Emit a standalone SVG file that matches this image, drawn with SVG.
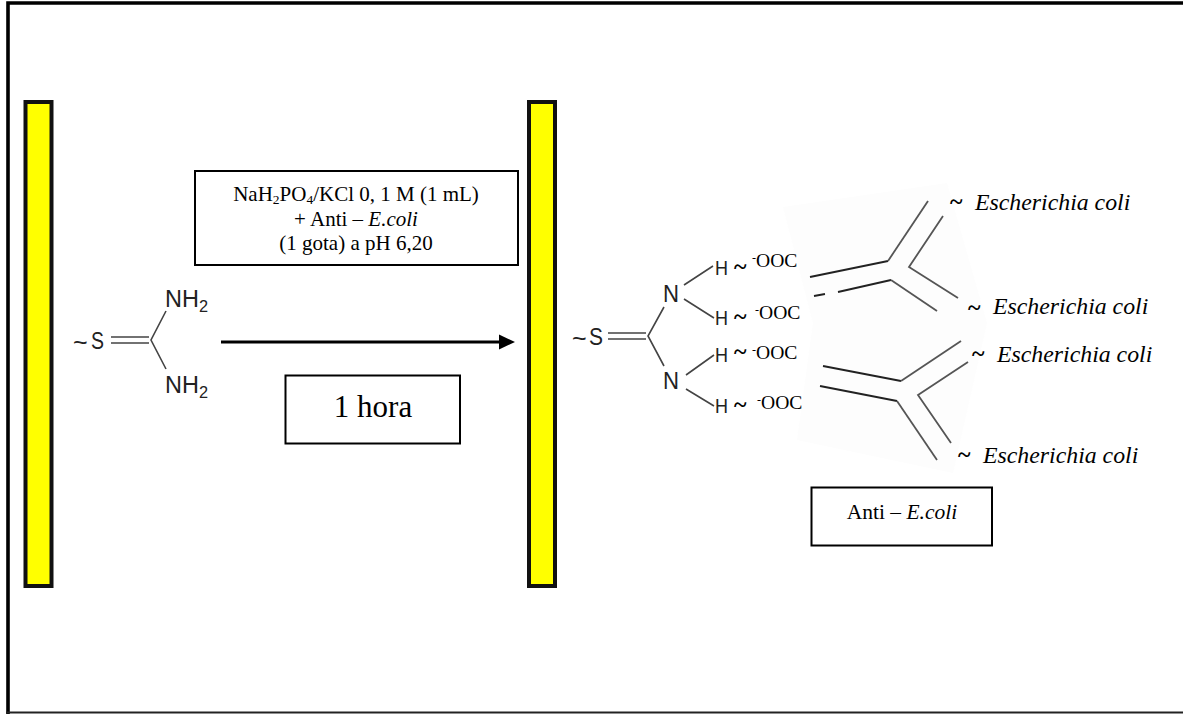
<svg xmlns="http://www.w3.org/2000/svg" width="1183" height="714" viewBox="0 0 1183 714">
<style>
.t{font-family:"Liberation Serif","Times New Roman",serif;fill:#000}
.s{font-family:"Liberation Sans",Arial,sans-serif;fill:#222}
.b{fill:#fff;stroke:#000;stroke-width:2}
.bar{fill:#ff0;stroke:#111;stroke-width:4}
.g{fill:none;stroke:#555;stroke-width:1.8}
.d{fill:none;stroke:#222;stroke-width:1.8}
.a{fill:none;stroke:#444;stroke-width:1.6}
.e{font-size:23.8px;font-style:italic}
.o{font-size:19.6px}
.w{font-size:24px;font-weight:bold}
.bg{fill:#fdfdfd}
</style>
<rect width="1183" height="714" fill="#fff"/>
<path d="M8 714V3H1183" fill="none" stroke="#000" stroke-width="3.600"/>
<line x1="6" y1="712.500" x2="1183" y2="712.500" stroke="#222" stroke-width="1.800"/>
<polygon class="bg" points="783,207 947,183 987,323 813,323"/>
<polygon class="bg" points="813,323 987,323 953,473 797,440"/>
<g id="plate-left"><rect class="bar" x="25.500" y="102" width="26" height="484"/></g>
<g id="plate-right"><rect class="bar" x="529" y="102" width="26" height="484"/></g>
<g id="box-reagent"><rect class="b" x="195" y="171" width="323" height="94"/>
<text class="t" text-anchor="middle" font-size="21"><tspan x="356" y="201">NaH<tspan font-size="13.500" dy="3">2</tspan><tspan dy="-3">PO</tspan><tspan font-size="13.500" dy="3">4</tspan><tspan dy="-3">/KCl 0, 1 M (1 mL)</tspan></tspan><tspan x="356" y="226">+ Anti – <tspan font-style="italic">E.coli</tspan></tspan><tspan x="356" y="250">(1 gota) a pH 6,20</tspan></text></g>
<g id="box-time"><rect class="b" x="285.500" y="375.500" width="174.500" height="68"/>
<text class="t" x="373" y="417" text-anchor="middle" font-size="31">1 hora</text></g>
<g id="box-antibody"><rect class="b" x="811.500" y="487.500" width="180.500" height="58"/>
<text class="t" x="902" y="519" text-anchor="middle" font-size="21.500">Anti – <tspan font-style="italic">E.coli</tspan></text></g>
<g id="connectors">
<line x1="221" y1="342" x2="500" y2="342" stroke="#000" stroke-width="3"/>
<polygon points="499,334.500 515,342 499,349.500" fill="#000"/>
</g>
<g id="molecule-left">
<text class="s" x="73" y="351" font-size="25">~</text>
<text class="s" x="91" y="349" font-size="24" textLength="13" lengthAdjust="spacingAndGlyphs">S</text>
<path class="a" d="M111 337H149M111 343H149"/>
<path class="a" d="M166 311L151 340L166 369"/>
<text class="s" font-size="23" x="165" y="307" textLength="43" lengthAdjust="spacingAndGlyphs">NH<tspan font-size="16" dy="5">2</tspan></text>
<text class="s" font-size="23" x="165" y="393" textLength="43" lengthAdjust="spacingAndGlyphs">NH<tspan font-size="16" dy="5">2</tspan></text>
</g>
<g id="molecule-right">
<text class="s" x="572" y="347" font-size="25">~</text>
<text class="s" x="589" y="345" font-size="24" textLength="14" lengthAdjust="spacingAndGlyphs">S</text>
<path class="a" d="M608 333H646M608 339H646"/>
<path class="a" d="M664 307L648 336L664 366"/>
<path class="a" d="M684 285L713 266M684 299L714 318M686 375L714 355M686 389L714 406"/>
<text class="s" font-size="24.500" x="663" y="302" textLength="16" lengthAdjust="spacingAndGlyphs">N</text>
<text class="s" font-size="24.500" x="663" y="389" textLength="16" lengthAdjust="spacingAndGlyphs">N</text>
<g class="s" font-size="21"><text x="715" y="275" textLength="13" lengthAdjust="spacingAndGlyphs">H</text><text x="715" y="325" textLength="13" lengthAdjust="spacingAndGlyphs">H</text><text x="715" y="362" textLength="13" lengthAdjust="spacingAndGlyphs">H</text><text x="715" y="413" textLength="13" lengthAdjust="spacingAndGlyphs">H</text></g>
<g class="t w"><text x="734" y="274">~</text><text x="734" y="324">~</text><text x="734" y="359">~</text><text x="734" y="412">~</text></g>
<g class="t o"><text x="752" y="267"><tspan font-size="12" dy="-5">-</tspan><tspan dy="5">OOC</tspan></text>
<text x="755" y="319"><tspan font-size="12" dy="-5">-</tspan><tspan dy="5">OOC</tspan></text>
<text x="752" y="359"><tspan font-size="12" dy="-5">-</tspan><tspan dy="5">OOC</tspan></text>
<text x="757" y="409"><tspan font-size="12" dy="-5">-</tspan><tspan dy="5">OOC</tspan></text></g>
</g>
<g id="antibody-upper">
<path class="d" d="M810 277L888 261"/>
<path class="g" d="M888 261L928 201"/>
<path class="g" d="M943 216L909 267L958 298"/>
<path class="d" d="M814 296L825 294M838 292L891 280"/>
<path class="g" d="M891 280L937 311"/>
</g>
<g id="antibody-lower">
<path class="d" d="M823 366L901 381"/>
<path class="g" d="M901 381L961 341"/>
<path class="g" d="M968 362L918 395L951 443"/>
<path class="d" d="M820 386L897 401"/>
<path class="g" d="M897 401L937 460"/>
</g>
<g id="labels-coli" class="t">
<text class="w" x="950" y="209">~</text><text class="e" x="975" y="210">Escherichia coli</text>
<text class="w" x="968" y="315">~</text><text class="e" x="993" y="314">Escherichia coli</text>
<text class="w" x="972" y="361">~</text><text class="e" x="997" y="362">Escherichia coli</text>
<text class="w" x="958" y="462">~</text><text class="e" x="983" y="463">Escherichia coli</text>
</g>
</svg>
